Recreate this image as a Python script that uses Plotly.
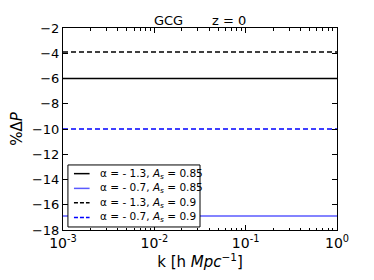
import plotly.graph_objects as go

k = [1e-3, 1e-2, 1e-1, 1.0]
s1 = [-6.0, -6.0, -6.0, -6.0]
s2 = [-16.9, -16.9, -16.9, -16.9]
s3 = [-3.9, -3.9, -3.9, -3.9]
s4 = [-10.0, -10.0, -10.0, -10.0]
names = ["α = - 1.3, <i>A<sub>s</sub></i> = 0.85",
         "α = - 0.7, <i>A<sub>s</sub></i> = 0.85",
         "α = - 1.3, <i>A<sub>s</sub></i> = 0.9",
         "α = - 0.7, <i>A<sub>s</sub></i> = 0.9"]
yticks = [-18, -16, -14, -12, -10, -8, -6, -4, -2]
xticks = [1e-3, 1e-2, 1e-1, 1]
xticktext = ["10<sup>-3</sup>", "10<sup>-2</sup>", "10<sup>-1</sup>", "10<sup>0</sup>"]
xminor = [m * 10 ** e for e in (-3, -2, -1) for m in range(2, 10)]

fig = go.Figure()
styles = [("black", "solid"), ("#5a5aff", "solid"), ("black", "5px,3px"), ("blue", "5px,3px")]
for ys, nm, (c, d) in zip([s1, s2, s3, s4], names, styles):
    fig.add_trace(go.Scatter(x=k, y=ys, mode="lines", name=nm, showlegend=False,
                             line=dict(color=c, dash=d, width=1.5)))

# compact legend box (matplotlib-like), in plot-area paper coordinates
leg_x0, leg_x1, leg_y0, leg_y1 = 0.018, 0.5, 0.015, 0.322
row_y = [0.279, 0.206, 0.135, 0.062]
fig.add_shape(type="rect", xref="paper", yref="paper", x0=leg_x0, x1=leg_x1, y0=leg_y0, y1=leg_y1,
              line=dict(color="black", width=1), fillcolor="white", layer="above")
for ry, nm, (c, d) in zip(row_y, names, styles):
    fig.add_shape(type="line", xref="paper", yref="paper", x0=0.040, x1=0.097, y0=ry, y1=ry,
                  line=dict(color=c, dash="4px,2px" if d != "solid" else "solid", width=1.5),
                  layer="above")
    fig.add_annotation(xref="paper", yref="paper", x=0.128, y=ry, text=nm, showarrow=False,
                       xanchor="left", yanchor="middle", font=dict(size=10.5))

fig.update_layout(
    width=366, height=272,
    margin=dict(l=55, r=37, t=20, b=50),
    paper_bgcolor="white", plot_bgcolor="white",
    font=dict(family="DejaVu Sans", color="black", size=13),
    title=dict(text="GCG       z = 0", x=0.525, xanchor="center", y=0.955, yanchor="middle",
               font=dict(size=13)),
    showlegend=False,
)
fig.update_xaxes(type="log", range=[-3, 0], tickvals=xticks, ticktext=xticktext,
                 automargin=False,
                 ticks="inside", ticklen=5, tickcolor="black", mirror="ticks",
                 showline=True, linecolor="black", linewidth=1, showgrid=False, zeroline=False,
                 minor=dict(tickvals=xminor, ticks="inside", ticklen=2.5, tickcolor="black",
                            showgrid=False),
                 title=dict(text="k [h <i>Mpc</i><sup>−1</sup>]", standoff=4, font=dict(size=15)),
                 tickfont=dict(size=14))
fig.update_yaxes(range=[-18, -2], tickvals=yticks, ticktext=["−%d" % abs(v) for v in yticks],
                 automargin=False,
                 ticks="inside", ticklen=5, tickcolor="black", mirror="ticks",
                 showline=True, linecolor="black", linewidth=1, showgrid=False, zeroline=False,
                 title=dict(text="%Δ<i>P</i>", standoff=6, font=dict(size=15)),
                 tickfont=dict(size=13))
fig.write_html("out.html")
